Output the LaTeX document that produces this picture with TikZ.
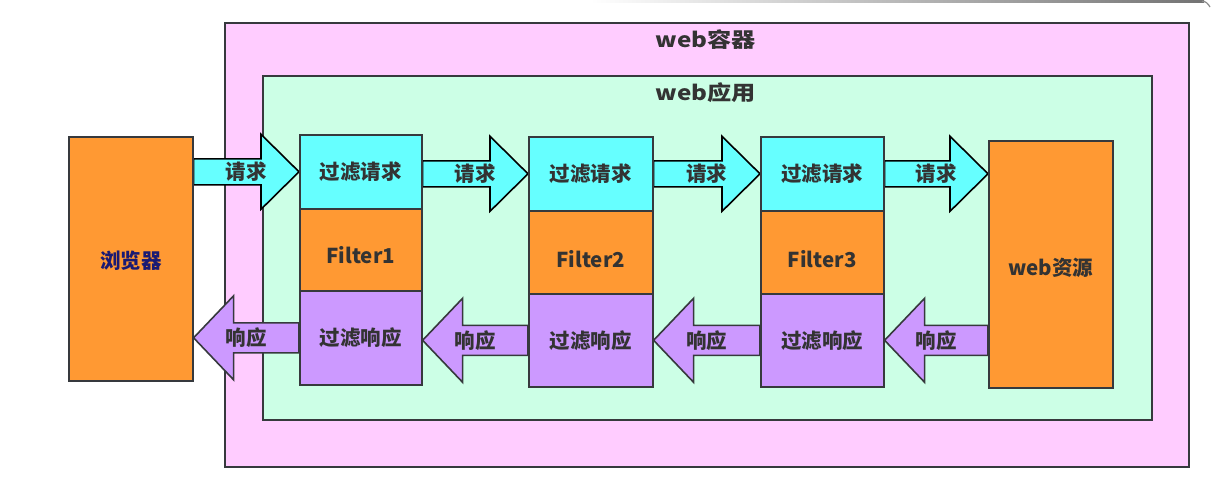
\documentclass[tikz,border=0pt]{standalone}
\usepackage{fontspec}
\newfontfamily\cjk{Noto Sans CJK SC}
\usetikzlibrary{calc}
\definecolor{pinkbg}{HTML}{FFCCFF}
\definecolor{mintbg}{HTML}{CCFFE6}
\definecolor{orangebx}{HTML}{FF9933}
\definecolor{cyanbx}{HTML}{66FFFF}
\definecolor{purplebx}{HTML}{CC99FF}
\definecolor{edge}{HTML}{36393D}
\definecolor{txt}{HTML}{333333}
\definecolor{navy}{HTML}{1A1A73}
\pgfdeclarelayer{bg}
\pgfdeclarelayer{mid}
\pgfsetlayers{bg,mid,main}
\newcommand\lowtxt[2]{\raisebox{-#1}[\height][0pt]{#2}}
\tikzset{
  box/.style={draw=edge, line width=1.6pt, rectangle, anchor=north west, inner sep=0pt,
    font=\cjk\bfseries\fontsize{20.5}{24}\selectfont, text=txt},
  container/.style={draw=edge, line width=1.8pt, rectangle, anchor=north west, inner sep=0pt},
  title/.style={font=\cjk\bfseries\fontsize{20.5}{24}\selectfont, text=txt, inner sep=0pt},
  reqA/.style={draw=black, line width=1.6pt, fill=cyanbx, line join=miter},
  respA/.style={draw=edge, line width=1.6pt, fill=purplebx, line join=miter},
  lbl/.style={font=\cjk\bfseries\fontsize{20.5}{24}\selectfont, text=txt, inner sep=0pt},
}
\newcommand\reqArrow[3]{%
  \draw[reqA] let \p1=(#1.east), \p2=(#2.west), \p3=(#3.center) in
    (\x1,\y3+13pt) -- (\x2-38pt,\y3+13pt) -- (\x2-38pt,\y3+37.5pt) -- (\x2,\y3)
    -- (\x2-38pt,\y3-37.5pt) -- (\x2-38pt,\y3-13pt) -- (\x1,\y3-13pt) -- cycle;
  \path let \p1=(#1.east), \p2=(#2.west), \p3=(#3.center) in
    node[lbl] at ({0.5*\x1+0.5*\x2},\y3) {请求};
}
\newcommand\respArrow[3]{%
  \draw[respA] let \p1=(#1.west), \p2=(#2.east), \p3=(#3.center) in
    (\x1,\y3+15pt) -- (\x2+40pt,\y3+15pt) -- (\x2+40pt,\y3+42pt) -- (\x2,\y3)
    -- (\x2+40pt,\y3-42pt) -- (\x2+40pt,\y3-15pt) -- (\x1,\y3-15pt) -- cycle;
  \path let \p1=(#1.west), \p2=(#2.east), \p3=(#3.center) in
    node[lbl] at ({0.5*\x1+0.5*\x2},\y3) {响应};
}
\begin{document}
\begin{tikzpicture}[x=1pt,y=-1pt]
\useasboundingbox (0,0) rectangle (1213,480);

\begin{pgfonlayer}{bg}
\fill[white] (0,0) rectangle (1213,480);
% top screenshot shadow
\shade[left color=white, right color=black!55] (590,0) rectangle (1204,2.5);
\draw[black!45, line width=1.2pt] (1202,1.2) to[out=0,in=120] (1210,7);
\node[container, fill=pinkbg, minimum width=964pt, minimum height=444pt] (outer) at (224,22) {};
\node[container, fill=mintbg, minimum width=889pt, minimum height=344pt] (inner) at (262,75) {};
\node[title] (t1) at (706,40) {\scalebox{1.18}[1]{web容器}};
\node[title] (t2) at (706,93) {\scalebox{1.18}[1]{web应用}};
\end{pgfonlayer}

% boxes
\node[box, fill=orangebx, minimum width=124pt, minimum height=244pt, text=navy] (browser) at (68,136) {\lowtxt{1pt}{浏览器}};

\node[box, fill=cyanbx, minimum width=122pt, minimum height=74pt] (f1req) at (299,134) {过滤请求};
\node[box, fill=orangebx, minimum width=122pt, minimum height=82pt] (f1) at (299,208) {\lowtxt{5pt}{Filter1}};
\node[box, fill=purplebx, minimum width=122pt, minimum height=94pt] (f1resp) at (299,290) {过滤响应};

\node[box, fill=cyanbx, minimum width=124pt, minimum height=74pt] (f2req) at (528,136) {过滤请求};
\node[box, fill=orangebx, minimum width=124pt, minimum height=83pt] (f2) at (528,210) {\lowtxt{7pt}{Filter2}};
\node[box, fill=purplebx, minimum width=124pt, minimum height=93pt] (f2resp) at (528,293) {过滤响应};

\node[box, fill=cyanbx, minimum width=123pt, minimum height=74pt] (f3req) at (760,136) {过滤请求};
\node[box, fill=orangebx, minimum width=123pt, minimum height=83pt] (f3) at (760,210) {\lowtxt{7pt}{Filter3}};
\node[box, fill=purplebx, minimum width=123pt, minimum height=93pt] (f3resp) at (760,293) {过滤响应};

\node[box, fill=orangebx, minimum width=124pt, minimum height=247pt] (webres) at (988,140) {\lowtxt{2pt}{web资源}};

\begin{pgfonlayer}{mid}
\reqArrow{browser}{f1req}{f1req}
\reqArrow{f1req}{f2req}{f2req}
\reqArrow{f2req}{f3req}{f3req}
\reqArrow{f3req}{webres}{f3req}
\respArrow{f1resp}{browser}{f1resp}
\respArrow{f2resp}{f1resp}{f2resp}
\respArrow{f3resp}{f2resp}{f3resp}
\respArrow{webres}{f3resp}{f3resp}
\end{pgfonlayer}
\end{tikzpicture}
\end{document}
